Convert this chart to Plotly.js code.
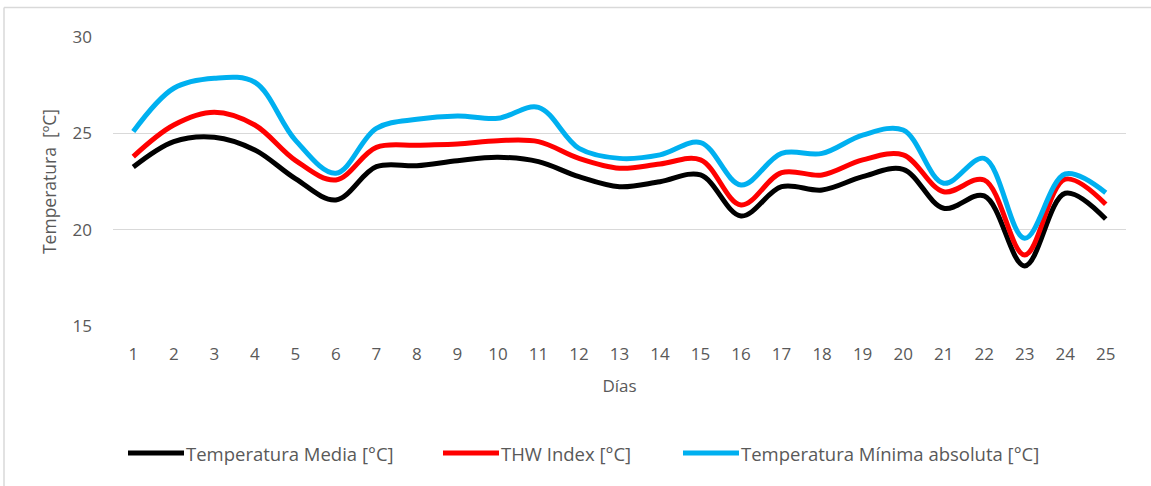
<!DOCTYPE html>
<html>
<head>
<meta charset="utf-8">
<script src="https://cdn.plot.ly/plotly-3.0.1.min.js"></script>
<style>
html,body{margin:0;padding:0;background:#fff;}
#chart{width:1151px;height:486px;}
</style>
</head>
<body>
<div id="chart"></div>
<script>
const dias = [1,2,3,4,5,6,7,8,9,10,11,12,13,14,15,16,17,18,19,20,21,22,23,24,25];
const tempMedia = [23.25,24.57,24.8,24.14,22.65,21.54,23.27,23.32,23.58,23.76,23.53,22.75,22.23,22.49,22.84,20.71,22.23,22.06,22.75,23.13,21.11,21.75,18.12,21.89,20.55];
const thwIndex = [23.79,25.43,26.09,25.43,23.6,22.58,24.27,24.38,24.45,24.62,24.57,23.7,23.19,23.41,23.62,21.28,22.96,22.84,23.62,23.88,21.97,22.58,18.69,22.62,21.32];
const tempMinAbs = [25.09,27.34,27.86,27.65,24.65,22.93,25.26,25.73,25.9,25.78,26.35,24.22,23.7,23.88,24.52,22.32,23.96,23.96,24.91,25.17,22.41,23.7,19.55,22.89,21.92];
const seriesNames = ["Temperatura Media [°C]","THW Index [°C]","Temperatura Mínima absoluta [°C]"];
const seriesColors = ["#000000","#FF0000","#00B0F0"];
const yTicks = [15,20,25,30];

const FONT = "'Open Sans', 'Noto Sans', sans-serif";
const GRAY = "#595959";

const seriesData = [tempMedia, thwIndex, tempMinAbs];
const traces = seriesData.map((ys,i)=>({
  x: dias, y: ys, type:'scatter', mode:'lines', name: seriesNames[i],
  line:{color:seriesColors[i], width:5, shape:'spline', smoothing:1},
  showlegend:false, hoverinfo:'x+y'
}));

// custom legend (paper coords)
const plotL = 113, plotR = 1126, plotT = 37, plotB = 326;
const pw = plotR-plotL, ph = plotB-plotT;
const px = v => (v-plotL)/pw;
const py = v => (plotB-v)/ph;
const legendStarts = [128, 443, 683];
const shapes = [];
const annotations = [];
legendStarts.forEach((s,i)=>{
  shapes.push({type:'line', xref:'paper', yref:'paper', x0:px(s), x1:px(s+56), y0:py(453), y1:py(453),
    line:{color:seriesColors[i], width:5}});
  annotations.push({xref:'paper', yref:'paper', x:px(s+56), y:py(453), xanchor:'left', yanchor:'middle',
    text:seriesNames[i], showarrow:false, font:{family:FONT, size:18.5, color:GRAY}});
});
// chart frame (left and top edges visible)
shapes.push({type:'line', xref:'paper', yref:'paper', x0:px(4), x1:px(4), y0:py(7.5), y1:py(490), line:{color:'#D9D9D9', width:1.5}});
shapes.push({type:'line', xref:'paper', yref:'paper', x0:px(4), x1:px(1160), y0:py(7.5), y1:py(7.5), line:{color:'#D9D9D9', width:1.5}});

const layout = {
  width:1151, height:486,
  margin:{l:plotL, r:1151-plotR, t:plotT, b:486-plotB},
  paper_bgcolor:'#fff', plot_bgcolor:'#fff',
  font:{family:FONT, color:GRAY, size:17},
  xaxis:{
    range:[0.5,25.5], tickmode:'array', tickvals:dias, ticktext:dias.map(String),
    showgrid:false, zeroline:false, showline:false, ticks:'', ticklabelstandoff:16,
    tickfont:{family:FONT, size:17, color:GRAY},
    title:{text:'Días', font:{family:FONT, size:17, color:GRAY}, standoff:16}
  },
  yaxis:{
    range:[15,30], tickmode:'array', tickvals:yTicks, ticktext:yTicks.map(String),
    showgrid:true, gridcolor:'#D9D9D9', gridwidth:1.5, zeroline:false, showline:false, ticks:'',
    ticklabelstandoff:20,
    tickfont:{family:FONT, size:17, color:GRAY},
    title:{text:'Temperatura \u00a0[ºC]', font:{family:FONT, size:17.5, color:GRAY}, standoff:11}
  },
  shapes:shapes, annotations:annotations, showlegend:false
};

Plotly.newPlot('chart', traces, layout, {displayModeBar:false, staticPlot:true});
</script>
</body>
</html>
